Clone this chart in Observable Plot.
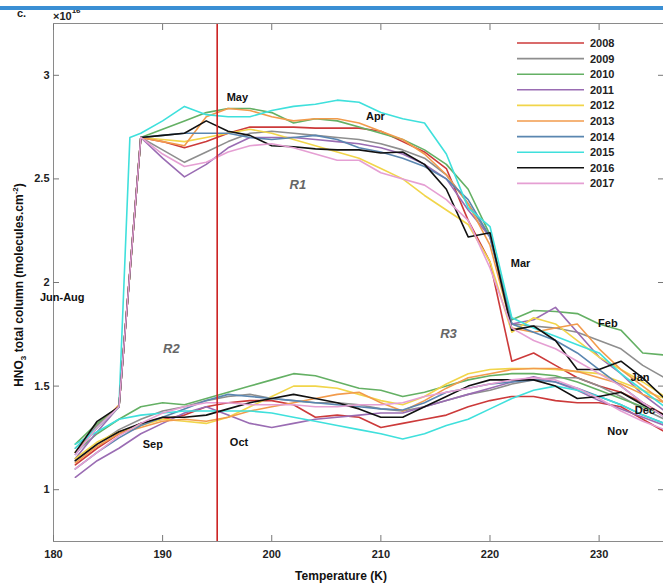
<!DOCTYPE html>
<html>
<head>
<meta charset="utf-8">
<script src="https://cdn.jsdelivr.net/npm/d3@7"></script>
<script src="https://cdn.jsdelivr.net/npm/@observablehq/plot@0.6"></script>
<style>
  body { margin: 0; background: #fff; }
  #chart { position: relative; width: 663px; height: 587px; overflow: hidden; font-family: "Liberation Sans", Arial, sans-serif; }
  #topbar { position: absolute; left: 0; top: 6px; width: 663px; height: 4px; background: #3a8fd4; }
</style>
</head>
<body>
<div id="chart"><div id="topbar"></div></div>
<script>
// ---------------- data ----------------
const years = ["2008","2009","2010","2011","2012","2013","2014","2015","2016","2017"];
const colors = ["#cc3a3a","#8e8e8e","#64b064","#9a6cb3","#f1d54a","#f29b4c","#5a86b0","#3fe0dc","#111111","#e59fd3"];

const xTicks = [180, 190, 200, 210, 220, 230];
const yTicks = [1, 1.5, 2, 2.5, 3];
const yTickLabels = ["1", "1.5", "2", "2.5", "3"];

// Temperature bins (K): autumn/early-winter branch (increasing T) and spring/summer branch (decreasing T)
const lowerT = [182,184,186,188,190,192,194,196,198,200,202,204,206,208,210,212,214,216,218,220,222,224,226,228,230,232,234,236];
const upperT = [236,234,232,230,228,226,224,222,220,218,216,214,212,210,208,206,204,202,200,198,196,194,192,190,188,187,186,184,182];

// HNO3 total column (x1e16 molecules/cm2)
const lower2008 = [1.12,1.20,1.27,1.32,1.34,1.36,1.40,1.42,1.43,1.43,1.41,1.35,1.36,1.35,1.30,1.32,1.34,1.36,1.40,1.43,1.45,1.45,1.43,1.42,1.42,1.40,1.34,1.28];
const lower2009 = [1.14,1.22,1.29,1.34,1.38,1.40,1.43,1.45,1.46,1.44,1.43,1.42,1.42,1.41,1.39,1.38,1.40,1.43,1.46,1.48,1.51,1.53,1.54,1.54,1.50,1.45,1.39,1.34];
const lower2010 = [1.18,1.27,1.34,1.40,1.42,1.41,1.44,1.47,1.50,1.53,1.56,1.55,1.52,1.49,1.48,1.45,1.47,1.50,1.53,1.55,1.56,1.56,1.55,1.52,1.48,1.44,1.40,1.36];
const lower2011 = [1.06,1.14,1.20,1.27,1.32,1.37,1.40,1.36,1.32,1.30,1.32,1.34,1.35,1.36,1.37,1.37,1.40,1.43,1.46,1.49,1.52,1.545,1.52,1.48,1.43,1.39,1.35,1.31];
const lower2012 = [1.15,1.23,1.28,1.31,1.34,1.33,1.32,1.35,1.40,1.45,1.50,1.50,1.49,1.46,1.43,1.41,1.45,1.51,1.56,1.58,1.585,1.585,1.58,1.57,1.56,1.52,1.48,1.44];
const lower2013 = [1.13,1.21,1.27,1.30,1.33,1.34,1.33,1.35,1.38,1.40,1.42,1.44,1.46,1.47,1.42,1.38,1.43,1.49,1.54,1.56,1.58,1.585,1.585,1.57,1.54,1.51,1.46,1.42];
const lower2014 = [1.10,1.18,1.25,1.31,1.35,1.39,1.43,1.46,1.45,1.44,1.43,1.42,1.41,1.40,1.39,1.385,1.42,1.47,1.49,1.51,1.52,1.53,1.52,1.49,1.45,1.41,1.36,1.32];
const lower2015 = [1.22,1.28,1.34,1.36,1.37,1.38,1.38,1.38,1.38,1.37,1.35,1.33,1.31,1.29,1.27,1.245,1.27,1.31,1.34,1.39,1.44,1.48,1.50,1.48,1.45,1.41,1.36,1.32];
const lower2016 = [1.14,1.22,1.28,1.32,1.35,1.35,1.36,1.39,1.42,1.44,1.46,1.44,1.42,1.39,1.35,1.35,1.40,1.45,1.50,1.53,1.53,1.53,1.50,1.44,1.45,1.47,1.41,1.36];
const lower2017 = [1.10,1.18,1.26,1.32,1.37,1.40,1.42,1.42,1.41,1.41,1.41,1.40,1.40,1.41,1.41,1.42,1.45,1.47,1.49,1.51,1.53,1.54,1.53,1.49,1.44,1.38,1.33,1.29];

const upper2008 = [1.36,1.42,1.47,1.50,1.54,1.60,1.66,1.62,2.10,2.30,2.55,2.63,2.68,2.73,2.745,2.745,2.745,2.75,2.75,2.75,2.72,2.68,2.65,2.68,2.70,2.05,1.40,1.31,1.18];
const upper2009 = [1.54,1.60,1.68,1.72,1.76,1.78,1.79,1.80,2.22,2.38,2.52,2.60,2.64,2.67,2.69,2.70,2.71,2.72,2.73,2.72,2.68,2.63,2.58,2.64,2.70,2.05,1.40,1.31,1.20];
const upper2010 = [1.65,1.66,1.77,1.80,1.85,1.86,1.865,1.82,2.23,2.45,2.57,2.64,2.69,2.72,2.75,2.78,2.79,2.77,2.82,2.84,2.84,2.82,2.78,2.74,2.70,2.05,1.40,1.32,1.22];
const upper2011 = [1.38,1.46,1.56,1.64,1.76,1.88,1.82,1.80,2.22,2.35,2.50,2.57,2.62,2.65,2.67,2.68,2.69,2.70,2.70,2.70,2.65,2.57,2.51,2.60,2.70,2.05,1.40,1.28,1.15];
const upper2012 = [1.45,1.52,1.58,1.64,1.72,1.80,1.83,1.76,2.10,2.28,2.35,2.42,2.50,2.55,2.60,2.63,2.66,2.69,2.72,2.74,2.72,2.70,2.68,2.69,2.70,2.05,1.40,1.30,1.18];
const upper2013 = [1.42,1.50,1.58,1.68,1.80,1.78,1.76,1.78,2.18,2.38,2.52,2.62,2.69,2.73,2.77,2.79,2.79,2.78,2.80,2.83,2.84,2.80,2.66,2.68,2.70,2.05,1.41,1.30,1.18];
const upper2014 = [1.35,1.42,1.50,1.58,1.66,1.72,1.76,1.80,2.22,2.40,2.50,2.56,2.60,2.63,2.65,2.69,2.71,2.70,2.69,2.70,2.72,2.72,2.72,2.71,2.70,2.05,1.40,1.30,1.17];
const upper2015 = [1.40,1.48,1.56,1.66,1.70,1.74,1.78,1.83,2.27,2.36,2.62,2.77,2.79,2.82,2.87,2.88,2.86,2.85,2.83,2.80,2.80,2.81,2.85,2.78,2.72,2.70,1.40,1.30,1.20];
const upper2016 = [1.44,1.54,1.62,1.58,1.58,1.72,1.79,1.77,2.24,2.22,2.45,2.57,2.63,2.625,2.64,2.64,2.645,2.655,2.66,2.71,2.73,2.78,2.72,2.71,2.70,2.05,1.40,1.33,1.18];
const upper2017 = [1.35,1.42,1.50,1.56,1.62,1.68,1.72,1.78,2.07,2.30,2.40,2.47,2.50,2.53,2.59,2.59,2.62,2.65,2.67,2.66,2.63,2.58,2.56,2.62,2.70,2.05,1.40,1.30,1.17];

// annotations
const annotText = ["May","Apr","Mar","Jun-Aug","Feb","Jan","Dec","Nov","Sep","Oct"];
const annotT    = [196.85, 209.5, 222.8, 180.8, 230.8, 233.75, 234.2, 231.7, 189.1, 197.0];
const annotV    = [2.894, 2.80, 2.09, 1.93, 1.80, 1.54, 1.38, 1.28, 1.22, 1.23];
const regionText = ["R1","R2","R3"];
const regionT    = [202.4, 190.8, 216.2];
const regionV    = [2.47, 1.68, 1.75];

const tempLine = [195];

// ---------------- build ----------------
const lowerAll = [lower2008,lower2009,lower2010,lower2011,lower2012,lower2013,lower2014,lower2015,lower2016,lower2017];
const upperAll = [upper2008,upper2009,upper2010,upper2011,upper2012,upper2013,upper2014,upper2015,upper2016,upper2017];
const rows = [];
years.forEach((yr, i) => {
  lowerT.forEach((t, j) => rows.push({year: yr, key: yr + "-lo", T: t, v: lowerAll[i][j]}));
  upperT.forEach((t, j) => rows.push({year: yr, key: yr + "-up", T: t, v: upperAll[i][j]}));
});
const annots = annotText.map((s, i) => ({s, T: annotT[i], v: annotV[i]}));
const regions = regionText.map((s, i) => ({s, T: regionT[i], v: regionV[i]}));

const W = 663, H = 587;
const plot = Plot.plot({
  width: W, height: H,
  marginLeft: 53, marginRight: 0, marginTop: 23, marginBottom: 46,
  x: {domain: [180, 235.9]},
  y: {domain: [0.75, 3.25]},
  color: {type: "ordinal", domain: years, range: colors},
  style: {fontFamily: "'Liberation Sans', Arial, sans-serif", fontSize: "11px", fontWeight: "bold", color: "#222", background: "white", overflow: "visible"},
  marks: [
    Plot.line(rows, {x: "T", y: "v", z: "key", stroke: "year", strokeWidth: 1.6, strokeLinejoin: "round"}),
    Plot.ruleX(tempLine, {stroke: "#cc2222", strokeWidth: 1.6}),
    Plot.frame({stroke: "#8a8a8a", strokeWidth: 1}),
    Plot.axisX({anchor: "bottom", ticks: xTicks, tickSize: 0, tickPadding: 9, label: null, fill: "#222"}),
    Plot.axisX({anchor: "bottom", ticks: xTicks, tickSize: 6, dy: -6, tickFormat: () => "", label: null, stroke: "#777"}),
    Plot.axisX({anchor: "top", ticks: xTicks, tickSize: 6, dy: 6, tickFormat: () => "", label: null, stroke: "#777"}),
    Plot.axisY({anchor: "left", ticks: yTicks, tickSize: 0, tickPadding: 4, tickFormat: (d) => yTickLabels[yTicks.indexOf(d)], label: null, fill: "#222"}),
    Plot.axisY({anchor: "left", ticks: yTicks, tickSize: 6, dx: 6, tickFormat: () => "", label: null, stroke: "#777"}),
    Plot.axisY({anchor: "right", ticks: yTicks, tickSize: 6, dx: -6, tickFormat: () => "", label: null, stroke: "#777"}),
    Plot.text(annots, {x: "T", y: "v", text: "s", fill: "#111", fontSize: 11, fontWeight: "bold"}),
    Plot.text(regions, {x: "T", y: "v", text: "s", fill: "#666", fontSize: 13, fontWeight: "bold", fontStyle: "italic"})
  ]
});

const chart = document.getElementById("chart");
chart.insertBefore(plot, chart.firstChild);
plot.style.position = "absolute";
plot.style.left = "0px";
plot.style.top = "0px";

const svg = d3.select(plot);
const ff = "'Liberation Sans', Arial, sans-serif";

// axis titles
svg.append("text")
  .attr("x", 341).attr("y", 580)
  .attr("text-anchor", "middle")
  .attr("font-family", ff).attr("font-size", 12).attr("font-weight", "bold").attr("fill", "#111")
  .text("Temperature (K)");

const yl = svg.append("text")
  .attr("transform", "translate(23,285) rotate(-90)")
  .attr("text-anchor", "middle")
  .attr("font-family", ff).attr("font-size", 12).attr("font-weight", "bold").attr("fill", "#111");
yl.append("tspan").text("HNO");
yl.append("tspan").attr("font-size", 8).attr("dy", 3).text("3");
yl.append("tspan").attr("dy", -3).text(" total column (molecules.cm");
yl.append("tspan").attr("font-size", 8).attr("dy", -5).text("-2");
yl.append("tspan").attr("dy", 5).text(")");

// panel letter and exponent
svg.append("text").attr("x", 17).attr("y", 17).attr("text-anchor", "start")
  .attr("font-family", ff).attr("font-size", 11).attr("font-weight", "bold").attr("fill", "#222").text("c.");
const ex = svg.append("text").attr("x", 53).attr("y", 20).attr("text-anchor", "start")
  .attr("font-family", ff).attr("font-size", 11).attr("font-weight", "bold").attr("fill", "#222");
ex.append("tspan").text("\u00d710");
ex.append("tspan").attr("font-size", 8).attr("dy", -7).text("16");

// legend
const lg = svg.append("g").attr("text-anchor", "start");
years.forEach((yr, i) => {
  const y = 43 + 15.6 * i;
  lg.append("line").attr("x1", 517).attr("x2", 584).attr("y1", y).attr("y2", y)
    .attr("stroke", colors[i]).attr("stroke-width", 1.6);
  lg.append("text").attr("x", 590).attr("y", y + 4).attr("text-anchor", "start")
    .attr("font-family", ff).attr("font-size", 11).attr("font-weight", "bold").attr("fill", "#222").text(yr);
});
</script>
</body>
</html>
